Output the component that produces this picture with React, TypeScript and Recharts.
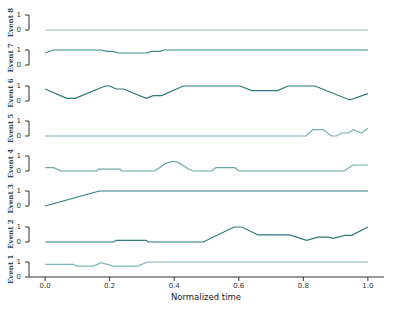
import { LineChart, Line, XAxis, YAxis } from "recharts";

const xTicks = [0, 0.2, 0.4, 0.6, 0.8, 1.0];
const yTicks = [0, 1];

const event1T = [0, 0.088, 0.098, 0.15, 0.173, 0.212, 0.286, 0.317, 1.0];
const event1V = [0.84, 0.84, 0.73, 0.73, 0.96, 0.73, 0.73, 1, 1];

const event2T = [0, 0.212, 0.22, 0.313, 0.32, 0.49, 0.585, 0.609, 0.66, 0.758, 0.784, 0.81, 0.846, 0.877, 0.893, 0.929, 0.95, 1.0];
const event2V = [0, 0, 0.11, 0.11, 0, 0, 1, 1, 0.47, 0.47, 0.29, 0.11, 0.33, 0.33, 0.24, 0.44, 0.44, 1];

const event3T = [0, 0.168, 1.0];
const event3V = [0, 1, 1];

const event4T = [0, 0.026, 0.049, 0.16, 0.165, 0.232, 0.237, 0.34, 0.372, 0.39, 0.408, 0.444, 0.46, 0.516, 0.529, 0.588, 0.6, 0.926, 0.955, 1.0];
const event4V = [0.22, 0.22, 0, 0, 0.13, 0.13, 0, 0, 0.49, 0.62, 0.62, 0.13, 0, 0, 0.22, 0.22, 0, 0, 0.4, 0.4];

const event5T = [0, 0.808, 0.83, 0.862, 0.887, 0.903, 0.918, 0.939, 0.955, 0.98, 1.0];
const event5V = [0, 0, 0.42, 0.42, 0, 0, 0.2, 0.2, 0.42, 0.2, 0.51];

const event6T = [0, 0.067, 0.093, 0.186, 0.2, 0.22, 0.243, 0.313, 0.335, 0.361, 0.428, 0.604, 0.64, 0.72, 0.753, 0.836, 0.944, 1.0];
const event6V = [0.8, 0.18, 0.18, 1, 1, 0.8, 0.8, 0.18, 0.36, 0.36, 1, 1, 0.69, 0.69, 1, 1, 0.07, 0.49];

const event7T = [0, 0.026, 0.175, 0.19, 0.21, 0.227, 0.315, 0.33, 0.356, 0.368, 1.0];
const event7V = [0.8, 1, 1, 0.91, 0.91, 0.8, 0.8, 0.91, 0.91, 1, 1];

const event8T = [0, 1.0];
const event8V = [0, 0];

const eventNames = ["Event 8", "Event 7", "Event 6", "Event 5", "Event 4", "Event 3", "Event 2", "Event 1"];
const eventTimes = [event8T, event7T, event6T, event5T, event4T, event3T, event2T, event1T];
const eventValues = [event8V, event7V, event6V, event5V, event4V, event3V, event2V, event1V];
const eventColors = ["#8cbdbd", "#3d8a8a", "#2e7777", "#78afaf", "#6fa8a8", "#2f7e7e", "#2f7979", "#7fb6b6"];

const AXIS = "#333333";
const TOP = 15;
const STEP = 35.25;
const PANEL_H = 15;
const PAD = 8;

const toPoints = (t: number[], v: number[]) => t.map((x, i) => ({ t: x, v: v[i] }));

export default function App() {
  const last = eventNames.length - 1;
  return (
    <div style={{ position: "absolute", left: 0, top: 0, width: 399, height: 313, background: "#fff" }}>
      {eventNames.map((name, i) => {
        const y1 = TOP + STEP * i;
        const isBottom = i === last;
        const xAxisH = 313 - (y1 + PANEL_H);
        const height = isBottom ? PAD + PANEL_H + xAxisH : PANEL_H + 2 * PAD;
        return (
          <div key={name} style={{ position: "absolute", left: 0, top: y1 - PAD }}>
            <LineChart
              width={399}
              height={height}
              data={toPoints(eventTimes[i], eventValues[i])}
              margin={{ top: PAD, right: 15, bottom: isBottom ? 0 : PAD, left: 0 }}
            >
              <XAxis
                type="number"
                dataKey="t"
                domain={[-0.05, 1.05]}
                ticks={xTicks}
                tickFormatter={(v: number) => v.toFixed(1)}
                hide={!isBottom}
                height={isBottom ? xAxisH : 0}
                stroke={AXIS}
                tickSize={4}
                tickMargin={2}
                tick={{ fontSize: 7, fill: "#333", fontFamily: "DejaVu Sans" }}
              />
              <YAxis
                type="number"
                domain={[0, 1]}
                ticks={yTicks}
                width={29}
                stroke={AXIS}
                tickSize={4}
                tickMargin={4}
                interval={0}
                tick={{ fontSize: 7, fill: "#333", fontFamily: "DejaVu Sans" }}
              />
              <Line
                dataKey="v"
                stroke={eventColors[i]}
                strokeWidth={1.2}
                dot={false}
                isAnimationActive={false}
                type="linear"
              />
            </LineChart>
          </div>
        );
      })}
      <svg width={399} height={313} style={{ position: "absolute", left: 0, top: 0, pointerEvents: "none" }}>
        {eventNames.map((name, i) => {
          const yc = TOP + STEP * i + PANEL_H / 2;
          return (
            <text
              key={name}
              transform={`translate(10, ${yc}) rotate(-90)`}
              textAnchor="middle"
              dominantBaseline="central"
              fontFamily="DejaVu Serif"
              fontWeight="bold"
              fontSize={7}
              fill="#2c4a5c"
            >
              {name}
            </text>
          );
        })}
        <text x={206} y={300} textAnchor="middle" fontFamily="DejaVu Sans" fontSize={8.5} fill="#222">
          Normalized time
        </text>
      </svg>
    </div>
  );
}
